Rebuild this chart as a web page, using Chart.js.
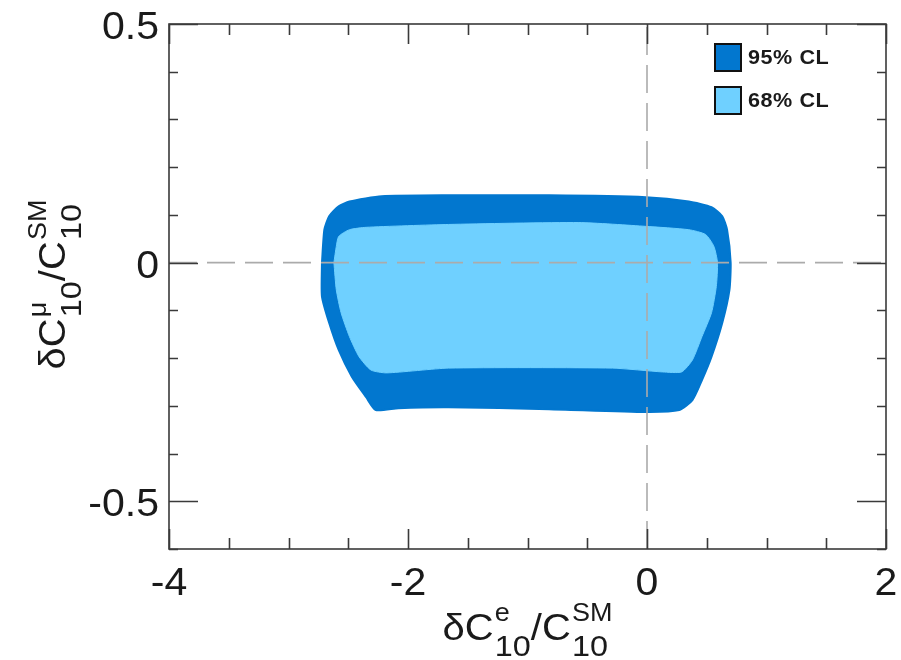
<!DOCTYPE html>
<html>
<head>
<meta charset="utf-8">
<script src="https://cdn.jsdelivr.net/npm/chart.js@4/dist/chart.umd.min.js"></script>
<style>
  html, body { margin: 0; padding: 0; background: #fff; }
  #wrap { width: 901px; height: 660px; position: relative; }
</style>
</head>
<body>
<div id="wrap"><canvas id="c" width="901" height="660"></canvas></div>
<script>
// Allowed region boundaries in the (δC10^e/C10^SM, δC10^μ/C10^SM) plane, traced clockwise
const seriesLabels = ['95% CL', '68% CL'];

const cl95X = [-2.72, -2.70, -2.66, -2.58, -2.49, -2.22, -1.66, -0.82, -0.01, 0.35, 0.54, 0.63, 0.67, 0.70,
               0.69, 0.63, 0.54, 0.46, 0.38, 0.27, -0.01, -0.82, -1.66, -2.08, -2.27, -2.35, -2.47, -2.58, -2.66, -2.72, -2.72];
const cl95Y = [0.000, 0.069, 0.097, 0.118, 0.128, 0.139, 0.141, 0.141, 0.137, 0.128, 0.116, 0.097, 0.069, 0.000,
               -0.057, -0.126, -0.197, -0.246, -0.288, -0.309, -0.313, -0.307, -0.303, -0.305, -0.309, -0.282, -0.239, -0.183, -0.126, -0.071, 0.000];

const cl68X = [-2.62, -2.60, -2.58, -2.49, -2.35, -1.66, -0.57, -0.01, 0.35, 0.49, 0.56, 0.59,
               0.58, 0.54, 0.46, 0.38, 0.29, 0.13, -0.29, -1.66, -2.18, -2.31, -2.41, -2.49, -2.56, -2.60, -2.62];
const cl68Y = [0.000, 0.034, 0.055, 0.069, 0.074, 0.080, 0.084, 0.076, 0.069, 0.059, 0.034, 0.000,
               -0.050, -0.105, -0.155, -0.204, -0.229, -0.229, -0.221, -0.221, -0.231, -0.225, -0.197, -0.155, -0.105, -0.057, 0.000];

// Axis ticks: labelled (major) values and minor spacing
const xTickLabels = [-4, -2, 0, 2];
const yTickLabels = [-0.5, 0, 0.5];
const xMinorStep = 0.5;
const yMinorStep = 0.1;

const COLOR_95 = '#0277cf';
const COLOR_68 = '#6fd0ff';
const FONT = '"Liberation Sans", Arial, Helvetica, sans-serif';
const TEXT_COLOR = '#1a1a1a';
const STRETCH = 1.08; // slightly wide lettering

const toPoints = (xs, ys) => xs.map((x, i) => ({ x: x, y: ys[i] }));
const isMajor = (v, list) => list.some(t => Math.abs(t - v) < 1e-9);

function wideText(ctx, text, x, y, align) {
  ctx.save();
  ctx.translate(x, y);
  ctx.scale(STRETCH, 1);
  ctx.textAlign = align || 'left';
  ctx.fillText(text, 0, 0);
  ctx.restore();
}

// Frame with inward ticks on all four sides, tick labels and dashed zero lines
const framePlugin = {
  id: 'frame',
  afterDatasetsDraw(chart) {
    const { ctx, chartArea: a, scales: { x, y } } = chart;
    ctx.save();
    ctx.strokeStyle = '#ababab';
    ctx.lineWidth = 1.6;
    ctx.setLineDash([28, 10]);
    const x0 = x.getPixelForValue(0), y0 = y.getPixelForValue(0);
    ctx.beginPath();
    ctx.moveTo(x0, a.bottom); ctx.lineTo(x0, a.top);
    ctx.moveTo(a.left, y0); ctx.lineTo(a.right, y0);
    ctx.stroke();
    ctx.setLineDash([]);

    ctx.strokeStyle = '#3a3a3a';
    ctx.lineWidth = 1.6;
    ctx.strokeRect(a.left, a.top, a.right - a.left, a.bottom - a.top);

    ctx.beginPath();
    for (let v = x.min; v <= x.max + 1e-9; v += xMinorStep) {
      const px = Math.round(x.getPixelForValue(v)) + 0.5;
      const len = isMajor(v, xTickLabels) ? 20 : 11;
      ctx.moveTo(px, a.bottom); ctx.lineTo(px, a.bottom - len);
      ctx.moveTo(px, a.top); ctx.lineTo(px, a.top + len);
    }
    for (let v = y.min; v <= y.max + 1e-9; v += yMinorStep) {
      const py = Math.round(y.getPixelForValue(v)) + 0.5;
      const len = isMajor(v, yTickLabels) ? 29 : 9;
      ctx.moveTo(a.left, py); ctx.lineTo(a.left + len, py);
      ctx.moveTo(a.right, py); ctx.lineTo(a.right - len, py);
    }
    ctx.stroke();

    ctx.fillStyle = TEXT_COLOR;
    ctx.font = '38px ' + FONT;
    ctx.textBaseline = 'alphabetic';
    xTickLabels.forEach(v => wideText(ctx, String(v), x.getPixelForValue(v), a.bottom + 46, 'center'));
    yTickLabels.forEach(v => wideText(ctx, String(v), a.left - 10, y.getPixelForValue(v) + 15, 'right'));
    ctx.restore();
  }
};

// Boxed legend in the upper right corner of the plot
const legendPlugin = {
  id: 'boxLegend',
  afterDraw(chart) {
    const { ctx, chartArea: a } = chart;
    ctx.save();
    const boxX = a.right - 171, boxW = 26, boxH = 27;
    chart.data.datasets.forEach((ds, i) => {
      const top = a.top + 20 + i * 43;
      ctx.fillStyle = ds.backgroundColor;
      ctx.fillRect(boxX, top, boxW, boxH);
      ctx.strokeStyle = '#111';
      ctx.lineWidth = 2;
      ctx.strokeRect(boxX, top, boxW, boxH);
      ctx.fillStyle = TEXT_COLOR;
      ctx.font = 'bold 20px ' + FONT;
      ctx.textBaseline = 'middle';
      if ('letterSpacing' in ctx) ctx.letterSpacing = '0.5px';
      wideText(ctx, ds.label, boxX + boxW + 7, top + boxH / 2 + 1, 'left');
    });
    ctx.restore();
  }
};

// Axis titles with stacked super/subscripts
const MAIN_FONT = '37px ' + FONT;
const SUP_FONT = '25px ' + FONT;
const SUB_FONT = '30px ' + FONT;

function measureMath(ctx, parts) {
  let w = 0;
  parts.forEach(p => {
    if (p.text !== undefined) { ctx.font = MAIN_FONT; p.w = ctx.measureText(p.text).width; }
    else {
      ctx.font = SUP_FONT; const a = ctx.measureText(p.sup).width;
      ctx.font = SUB_FONT; const b = ctx.measureText(p.sub).width;
      p.w = Math.max(a, b) + 1;
    }
    w += p.w;
  });
  return w;
}
function drawMath(ctx, parts, cx, baseline) {
  const total = measureMath(ctx, parts);
  ctx.save();
  ctx.translate(cx, baseline);
  ctx.scale(STRETCH, 1);
  let xPos = -total / 2;
  ctx.fillStyle = TEXT_COLOR;
  ctx.textAlign = 'left';
  ctx.textBaseline = 'alphabetic';
  parts.forEach(p => {
    if (p.text !== undefined) {
      ctx.font = MAIN_FONT; ctx.fillText(p.text, xPos, 0);
    } else {
      ctx.font = SUP_FONT; ctx.fillText(p.sup, xPos + 1, -19);
      ctx.font = SUB_FONT; ctx.fillText(p.sub, xPos + 1, 16);
    }
    xPos += p.w;
  });
  ctx.restore();
}
const titlePlugin = {
  id: 'mathTitles',
  afterDraw(chart) {
    const { ctx, chartArea: a } = chart;
    const cx = (a.left + a.right) / 2;
    drawMath(ctx, [{ text: 'δC' }, { sup: 'e', sub: '10' }, { text: '/C' }, { sup: 'SM', sub: '10' }], cx, a.bottom + 91);
    ctx.save();
    ctx.translate(a.left - 104, (a.top + a.bottom) / 2 - 2);
    ctx.rotate(-Math.PI / 2);
    drawMath(ctx, [{ text: 'δC' }, { sup: 'μ', sub: '10' }, { text: '/C' }, { sup: 'SM', sub: '10' }], 0, 0);
    ctx.restore();
  }
};

new Chart(document.getElementById('c'), {
  type: 'scatter',
  data: {
    datasets: [
      {
        label: seriesLabels[0],
        data: toPoints(cl95X, cl95Y),
        showLine: true,
        fill: 'shape',
        backgroundColor: COLOR_95,
        borderColor: COLOR_95,
        borderWidth: 2,
        pointRadius: 0,
        tension: 0.2,
        order: 2
      },
      {
        label: seriesLabels[1],
        data: toPoints(cl68X, cl68Y),
        showLine: true,
        fill: 'shape',
        backgroundColor: COLOR_68,
        borderColor: COLOR_68,
        borderWidth: 1,
        pointRadius: 0,
        tension: 0.2,
        order: 1
      }
    ]
  },
  options: {
    responsive: false,
    animation: false,
    devicePixelRatio: 1,
    layout: { padding: { top: 24, right: 15, left: 0, bottom: 0 } },
    plugins: { legend: { display: false }, tooltip: { enabled: false } },
    scales: {
      x: {
        type: 'linear', min: -4, max: 2,
        grid: { display: false, drawTicks: false },
        border: { display: false },
        ticks: { display: false, stepSize: xMinorStep },
        afterFit: s => { s.height = 111; }
      },
      y: {
        type: 'linear', min: -0.6, max: 0.5,
        grid: { display: false, drawTicks: false },
        border: { display: false },
        ticks: { display: false, stepSize: yMinorStep },
        afterFit: s => { s.width = 169; }
      }
    }
  },
  plugins: [framePlugin, legendPlugin, titlePlugin]
});
</script>
</body>
</html>
